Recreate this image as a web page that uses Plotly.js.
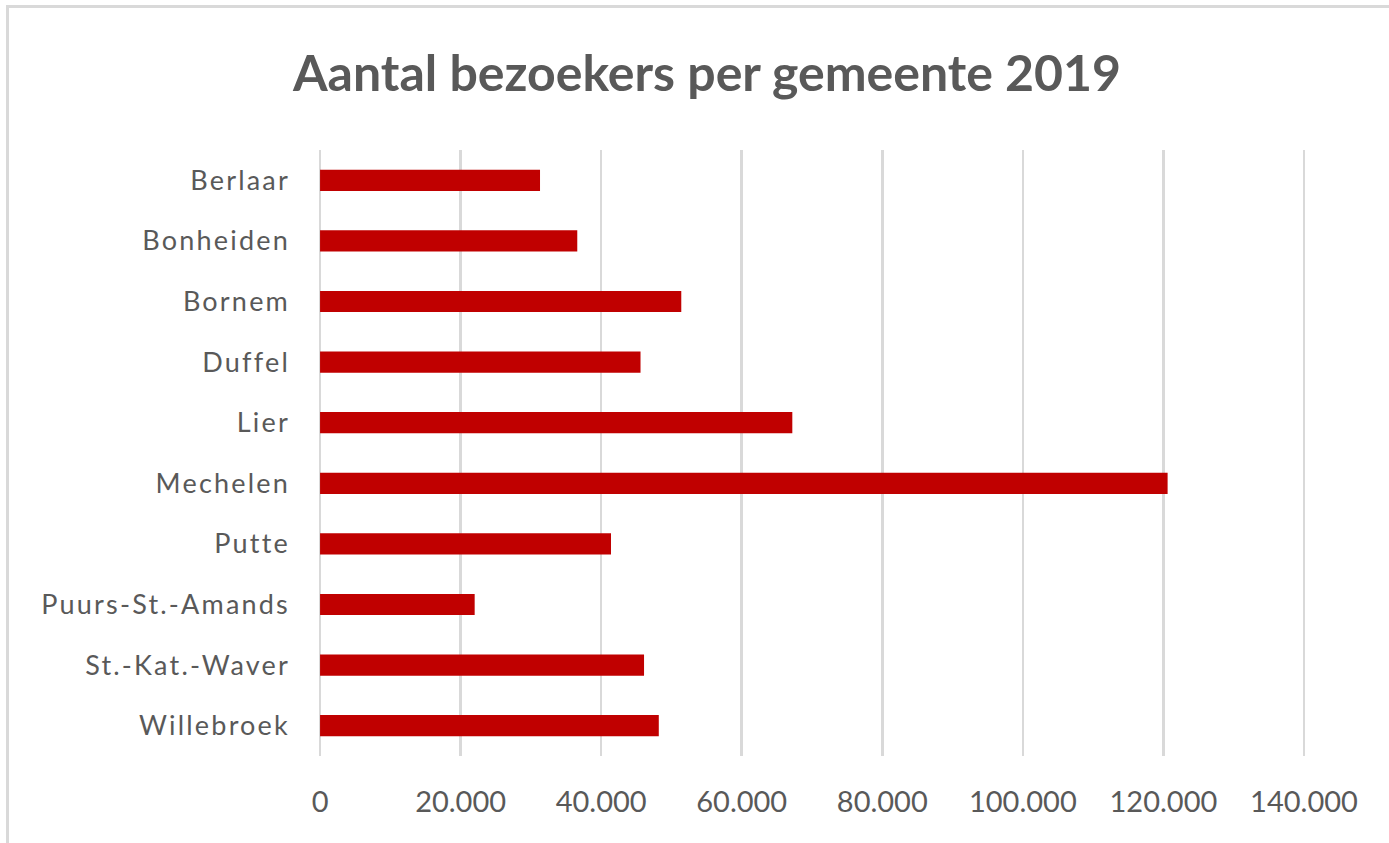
<!DOCTYPE html>
<html>
<head>
<meta charset="utf-8">
<script src="https://cdn.plot.ly/plotly-3.0.1.min.js"></script>
<style>
  html, body { margin: 0; padding: 0; background: #ffffff; overflow: hidden; }
  #frame { position: absolute; left: 6px; top: 5px; width: 1383px; height: 838px;
           border-top: 3px solid #D9D9D9; border-left: 3px solid #D9D9D9; box-sizing: border-box; }
  #chart { position: absolute; left: 0; top: 0; width: 1389px; height: 843px; }
  #chart .ytick text { letter-spacing: 2.2px; }
</style>
</head>
<body>
<div id="frame"></div>
<div id="chart"></div>
<script>
const categories = ["Berlaar", "Bonheiden", "Bornem", "Duffel", "Lier", "Mechelen", "Putte", "Puurs-St.-Amands", "St.-Kat.-Waver", "Willebroek"];
const visitors = [31300, 36600, 51400, 45600, 67200, 120600, 41400, 22000, 46100, 48200];
const tickValues = [0, 20000, 40000, 60000, 80000, 100000, 120000, 140000];
const tickLabels = ["0", "20.000", "40.000", "60.000", "80.000", "100.000", "120.000", "140.000"];

const trace = {
  type: "bar",
  orientation: "h",
  x: visitors,
  y: categories,
  marker: { color: "#C00000" },
  hoverinfo: "x+y"
};

const layout = {
  width: 1389,
  height: 843,
  paper_bgcolor: "rgba(0,0,0,0)",
  plot_bgcolor: "rgba(0,0,0,0)",
  margin: { l: 319, r: 84, t: 150, b: 87 },
  bargap: 0.65,
  showlegend: false,
  title: {
    text: "<b>Aantal bezoekers per gemeente 2019</b>",
    font: { family: "Lato, sans-serif", size: 50, color: "#595959" },
    x: 0.509, xanchor: "center",
    y: 0.913, yanchor: "middle", yref: "container"
  },
  xaxis: {
    range: [-150, 140150],
    tickvals: tickValues,
    ticktext: tickLabels,
    showgrid: true,
    gridcolor: "#D9D9D9",
    gridwidth: 2.5,
    zeroline: false,
    showline: false,
    ticks: "",
    ticklabelstandoff: 26,
    tickfont: { family: "Lato, sans-serif", size: 29, color: "#595959" },
    fixedrange: true
  },
  yaxis: {
    type: "category",
    autorange: "reversed",
    showgrid: false,
    zeroline: false,
    showline: false,
    ticks: "",
    ticklabelstandoff: 28,
    tickfont: { family: "Lato, sans-serif", size: 27, color: "#595959" },
    fixedrange: true
  }
};

Plotly.newPlot("chart", [trace], layout, { displayModeBar: false, staticPlot: true });
</script>
</body>
</html>
